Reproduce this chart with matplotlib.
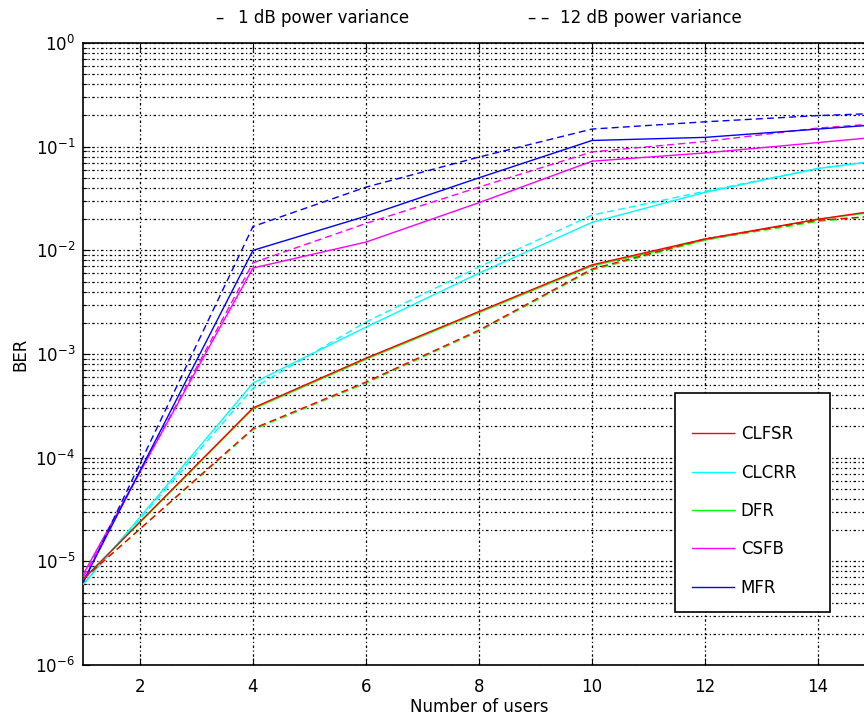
import numpy as np
import matplotlib
matplotlib.use('Agg')
import matplotlib.pyplot as plt
from matplotlib.patches import Rectangle
from matplotlib.ticker import LogLocator, NullFormatter

plt.rcParams['font.family'] = ['DejaVu Sans']
plt.rcParams['mathtext.default'] = 'regular'
plt.rcParams['font.size'] = 12

### DATA (log10 of BER) ###
users = [1, 4, 6, 8, 10, 12, 14, 15]
xticks = [2, 4, 6, 8, 10, 12, 14]
ytick_exp = [-6, -5, -4, -3, -2, -1, 0]

# 1 dB power variance (solid)
clfsr_1 = [-5.17, -3.52, -3.04, -2.59, -2.14, -1.89, -1.70, -1.62]
clcrr_1 = [-5.22, -3.28, -2.74, -2.22, -1.73, -1.44, -1.21, -1.14]
dfr_1   = [-5.17, -3.53, -3.05, -2.60, -2.15, -1.90, -1.70, -1.63]
csfb_1  = [-5.12, -2.17, -1.92, -1.54, -1.14, -1.06, -0.96, -0.91]
mfr_1   = [-5.19, -2.00, -1.67, -1.30, -0.94, -0.91, -0.83, -0.79]

# 12 dB power variance (dashed)
clfsr_12 = [-5.17, -3.72, -3.27, -2.77, -2.18, -1.89, -1.71, -1.67]
clcrr_12 = [-5.22, -3.33, -2.69, -2.16, -1.66, -1.43, -1.21, -1.14]
dfr_12   = [-5.17, -3.73, -3.28, -2.78, -2.19, -1.90, -1.72, -1.67]
csfb_12  = [-5.15, -2.12, -1.74, -1.39, -1.05, -0.95, -0.82, -0.78]
mfr_12   = [-5.20, -1.77, -1.39, -1.10, -0.83, -0.76, -0.70, -0.68]

names = ['CLFSR', 'CLCRR', 'DFR', 'CSFB', 'MFR']
colors = ['#ff0000', '#00ffff', '#00ff00', '#ff00ff', '#0000ff']
solid = [clfsr_1, clcrr_1, dfr_1, csfb_1, mfr_1]
dashed = [clfsr_12, clcrr_12, dfr_12, csfb_12, mfr_12]
zorders = [5, 4, 3, 4, 4]   # red sits on top of green

### FIGURE ###
fig = plt.figure(figsize=(8.64, 7.16), dpi=100)
ax = fig.add_axes([0.0966, 0.0712, 0.9155, 0.8687])

handles = []
for name, c, s, d, z in zip(names, colors, solid, dashed, zorders):
    h, = ax.plot(users, 10**np.array(s), color=c, lw=1.0, ls='-', zorder=z, label=name)
    ax.plot(users, 10**np.array(d), color=c, lw=1.0, ls=(0, (5, 3)), zorder=z)
    handles.append(h)

ax.set_yscale('log')
ax.set_xlim(1, 15)
ax.set_ylim(1e-6, 1e0)
ax.set_xticks(xticks)
ax.set_yticks([10.0**e for e in ytick_exp],
              [r'$10^{%d}$' % e for e in ytick_exp])
ax.yaxis.set_minor_locator(LogLocator(base=10, subs=np.arange(2, 10), numticks=20))
ax.yaxis.set_minor_formatter(NullFormatter())

grid_ls = (0, (2, 2, 1, 2))
ax.grid(True, which='major', axis='both', color='black', ls=grid_ls, lw=0.9)
ax.grid(True, which='minor', axis='y', color='black', ls=grid_ls, lw=0.9)
ax.tick_params(which='both', direction='in', top=True, right=True, labelsize=12)
ax.tick_params(which='major', length=5)
ax.tick_params(which='minor', length=3)
ax.tick_params(axis='x', pad=9)
ax.tick_params(axis='y', pad=6)
for sp in ax.spines.values():
    sp.set_linewidth(1.2)

ax.set_xlabel('Number of users', labelpad=2)
ax.set_ylabel('BER', labelpad=4)

# legend box (white, opaque) and its entries on top
fig.patches.append(Rectangle((675 / 864, 1 - 612 / 716), 155 / 864, 219 / 716,
                             transform=fig.transFigure, facecolor='white',
                             edgecolor='black', lw=1.2, zorder=1))
leg = fig.legend(handles=handles, loc='upper left',
                 bbox_to_anchor=(684 / 864, 1 - 417 / 716),
                 frameon=False, borderpad=0, handlelength=2.5,
                 labelspacing=1.22, handletextpad=0.4)
leg.set_zorder(5)

fig.text(215 / 864, 1 - 18 / 716, '\u2013', ha='left', va='center', fontsize=12)
fig.text(238 / 864, 1 - 18 / 716, '1 dB power variance', ha='left', va='center', fontsize=12)
fig.text(527 / 864, 1 - 18 / 716, '\u2013', ha='left', va='center', fontsize=12)
fig.text(540 / 864, 1 - 18 / 716, '\u2013', ha='left', va='center', fontsize=12)
fig.text(560 / 864, 1 - 18 / 716, '12 dB power variance', ha='left', va='center', fontsize=12)

fig.savefig('out.png', dpi=100)
